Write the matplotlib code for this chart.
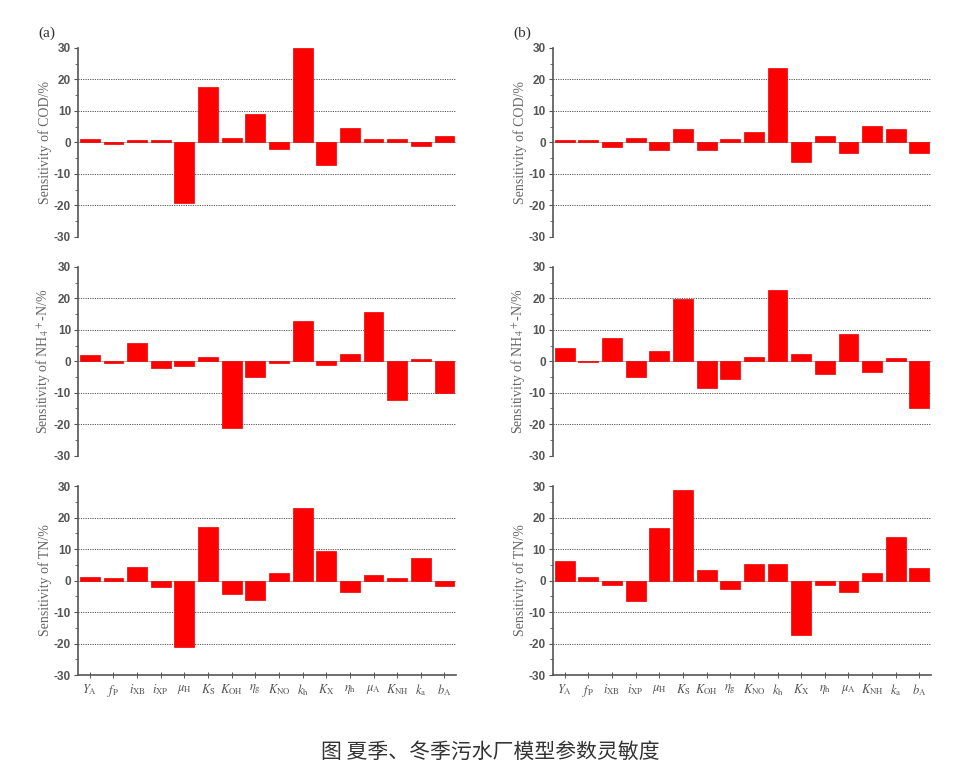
import matplotlib.pyplot as plt
from matplotlib.ticker import MultipleLocator

plt.rcParams['mathtext.fontset'] = 'stix'
plt.rcParams['axes.unicode_minus'] = False

params = [r'$Y_{\rm A}$', r'$f_{\rm P}$', r'$i_{\rm XB}$', r'$i_{\rm XP}$', r'$\mu_{\rm H}$',
          r'$K_{\rm S}$', r'$K_{\rm OH}$', r'$\eta_{\rm g}$', r'$K_{\rm NO}$', r'$k_{\rm h}$',
          r'$K_{\rm X}$', r'$\eta_{\rm h}$', r'$\mu_{\rm A}$', r'$K_{\rm NH}$', r'$k_{\rm a}$',
          r'$b_{\rm A}$']

# summer (a)
cod_a = [1.0, -0.5, 0.8, 0.8, -19.2, 17.7, 1.5, 8.9, -2.1, 29.9, -7.2, 4.5, 1.0, 1.0, -1.3, 2.1]
nh4_a = [1.9, -0.4, 5.9, -2.1, -1.5, 1.5, -21.2, -5.0, -0.4, 12.9, -1.3, 2.2, 15.8, -12.3, 0.8, -10.2]
tn_a = [1.2, 0.7, 4.4, -2.1, -21.1, 17.1, -4.4, -6.2, 2.4, 23.1, 9.4, -3.7, 1.8, 0.8, 7.2, -1.8]

# winter (b)
cod_b = [0.6, 0.6, -1.4, 1.3, -2.4, 4.3, -2.5, 1.2, 3.2, 23.7, -6.1, 2.1, -3.3, 5.3, 4.3, -3.5]
nh4_b = [4.2, -0.3, 7.4, -5.0, 3.2, 19.8, -8.6, -5.7, 1.5, 22.6, 2.3, -3.9, 8.7, -3.5, 1.1, -14.7]
tn_b = [6.1, 1.2, -1.3, -6.4, 16.6, 28.7, 3.3, -2.8, 5.4, 5.2, -17.2, -1.4, -3.6, 2.3, 13.8, 4.1]

ylabels = ['Sensitivity of COD/%',
           r'Sensitivity of NH$_4$$^+$-N/%',
           'Sensitivity of TN/%']

columns = [[cod_a, nh4_a, tn_a], [cod_b, nh4_b, tn_b]]

fig = plt.figure(figsize=(9.7, 7.79), dpi=100)

lefts = [0.0804, 0.570]
bottoms = [0.696, 0.415, 0.1335]
w, h = 0.390, 0.2425
x = list(range(1, 17))

for c, series in enumerate(columns):
    for r, vals in enumerate(series):
        ax = fig.add_axes([lefts[c], bottoms[r], w, h])
        for yv in [-20, -10, 10, 20]:
            ax.axhline(yv, color='#555555', linestyle=(0, (1.2, 1.2)), linewidth=0.7, zorder=0)
        ax.axhline(0, color='#888888', linewidth=0.5, zorder=0)
        ax.bar(x, vals, width=0.84, color='#ff0000', edgecolor='#ee0000', linewidth=0.5, zorder=2)
        ax.set_xlim(0.5, 16.5)
        ax.set_ylim(-30, 30)
        ax.yaxis.set_major_locator(MultipleLocator(10))
        ax.yaxis.set_minor_locator(MultipleLocator(5))
        for s in ['top', 'right']:
            ax.spines[s].set_visible(False)
        ax.spines['left'].set_color('#555555')
        ax.spines['left'].set_linewidth(1.2)
        ax.tick_params(axis='y', which='major', direction='out', length=3, width=0.8,
                       colors='#555555', labelsize=8.5, pad=2)
        ax.tick_params(axis='y', which='minor', direction='out', length=2, width=0.6, colors='#555555')
        for lab in ax.get_yticklabels():
            lab.set_fontweight('bold')
            lab.set_family('Liberation Sans')
        if r == 2:
            ax.spines['bottom'].set_color('#555555')
            ax.spines['bottom'].set_linewidth(1.2)
            ax.set_xticks(x)
            ax.set_xticklabels(params, fontsize=9, color='#555555')
            ax.tick_params(axis='x', direction='inout', length=5, width=0.7, colors='#555555', pad=3)
        else:
            ax.spines['bottom'].set_visible(False)
            ax.set_xticks([])
        ax.set_ylabel(ylabels[r], family='Liberation Serif', fontsize=10, color='#666666', labelpad=1)
        if r == 0:
            ax.text(-0.105, 1.04, '(a)' if c == 0 else '(b)', transform=ax.transAxes,
                    family='Liberation Serif', fontsize=11, color='#333333', ha='left', va='bottom')

fig.text(0.505, 0.035, '图 夏季、冬季污水厂模型参数灵敏度', ha='center', va='center',
         fontsize=15, color='#333333', family=['Noto Sans CJK SC', 'DejaVu Sans'])

fig.savefig('out.png', dpi=100)
